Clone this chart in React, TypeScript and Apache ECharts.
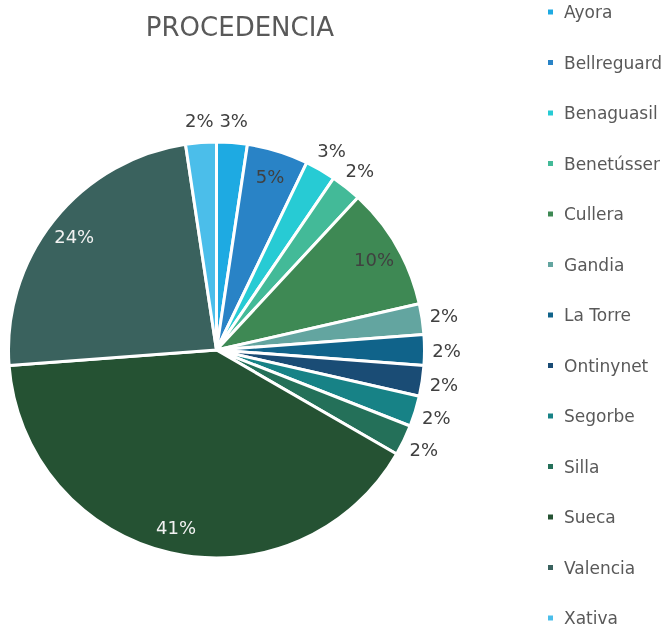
import React, { useEffect, useRef } from "react";
import * as echarts from "echarts";

const categories = [
  "Ayora", "Bellreguard", "Benaguasil", "Benetússer", "Cullera", "Gandia",
  "La Torre", "Ontinynet", "Segorbe", "Silla", "Sueca", "Valencia", "Xativa",
];
const counts = [1, 2, 1, 1, 4, 1, 1, 1, 1, 1, 17, 10, 1];
const title = "PROCEDENCIA";

const sliceColors = [
  "#1EAAE2", "#2983C6", "#27CBD4", "#43BA98", "#3E8954", "#63A5A0",
  "#10638A", "#1A4C75", "#178286", "#247059", "#255233", "#3A625E", "#4BBEEA",
];
const lightLabelFor = ["Sueca", "Valencia"];

const FONT = "'DejaVu Sans', sans-serif";

export default function App() {
  const ref = useRef<HTMLDivElement>(null);
  useEffect(() => {
    if (!ref.current) return;
    const chart = echarts.init(ref.current, null, { renderer: "svg" });
    const total = counts.reduce((a, b) => a + b, 0);
    const isOuter = (v: number) => v / total < 0.04;
    const center = [216.5, 350];
    const R = 208;

    const mainData = categories.map((n, i) => ({
      name: n,
      value: counts[i],
      itemStyle: { color: sliceColors[i] },
    }));
    const innerLabelData = categories.map((n, i) => ({
      name: n,
      value: counts[i],
      itemStyle: { color: "rgba(0,0,0,0)", borderWidth: 0 },
      label: {
        show: !isOuter(counts[i]),
        color: lightLabelFor.includes(n) ? "#F2F2F2" : "#404040",
      },
    }));
    const outerLabelData = categories.map((n, i) => ({
      name: n,
      value: counts[i],
      itemStyle: { color: "rgba(0,0,0,0)", borderWidth: 0 },
      label: { show: isOuter(counts[i]) },
    }));

    const labelSeries = (radius: number[], data: any[]) => ({
      type: "pie",
      silent: true,
      legendHoverLink: false,
      center,
      radius,
      startAngle: 90,
      clockwise: true,
      percentPrecision: 0,
      data,
      label: {
        position: "inside",
        formatter: "{d}%",
        fontFamily: FONT,
        fontSize: 18,
        color: "#404040",
      },
      labelLine: { show: false },
      emphasis: { disabled: true },
    });

    chart.setOption({
      animation: false,
      title: {
        text: title,
        left: 235,
        textAlign: "center",
        top: 9,
        textStyle: {
          fontFamily: FONT,
          fontSize: 26,
          fontWeight: "normal",
          color: "#595959",
        },
      },
      legend: {
        orient: "vertical",
        left: 546,
        top: 3,
        height: 650,
        padding: 0,
        icon: "rect",
        itemWidth: 7,
        itemHeight: 7,
        itemGap: 32.5,
        data: categories,
        textStyle: {
          fontFamily: FONT,
          fontSize: 17,
          lineHeight: 18,
          color: "#595959",
          padding: [0, 0, 0, 5],
        },
      },
      series: [
        {
          type: "pie",
          center,
          radius: [0, R],
          startAngle: 90,
          clockwise: true,
          percentPrecision: 0,
          data: mainData,
          itemStyle: { borderColor: "#FFFFFF", borderWidth: 3 },
          label: { show: false },
          labelLine: { show: false },
          emphasis: { disabled: true },
        },
        labelSeries([150, R], innerLabelData),
        labelSeries([R, R + 38], outerLabelData),
      ],
    });
    return () => chart.dispose();
  }, []);
  return (
    <div
      ref={ref}
      style={{ position: "fixed", left: 0, top: 0, width: 670, height: 628 }}
    />
  );
}
